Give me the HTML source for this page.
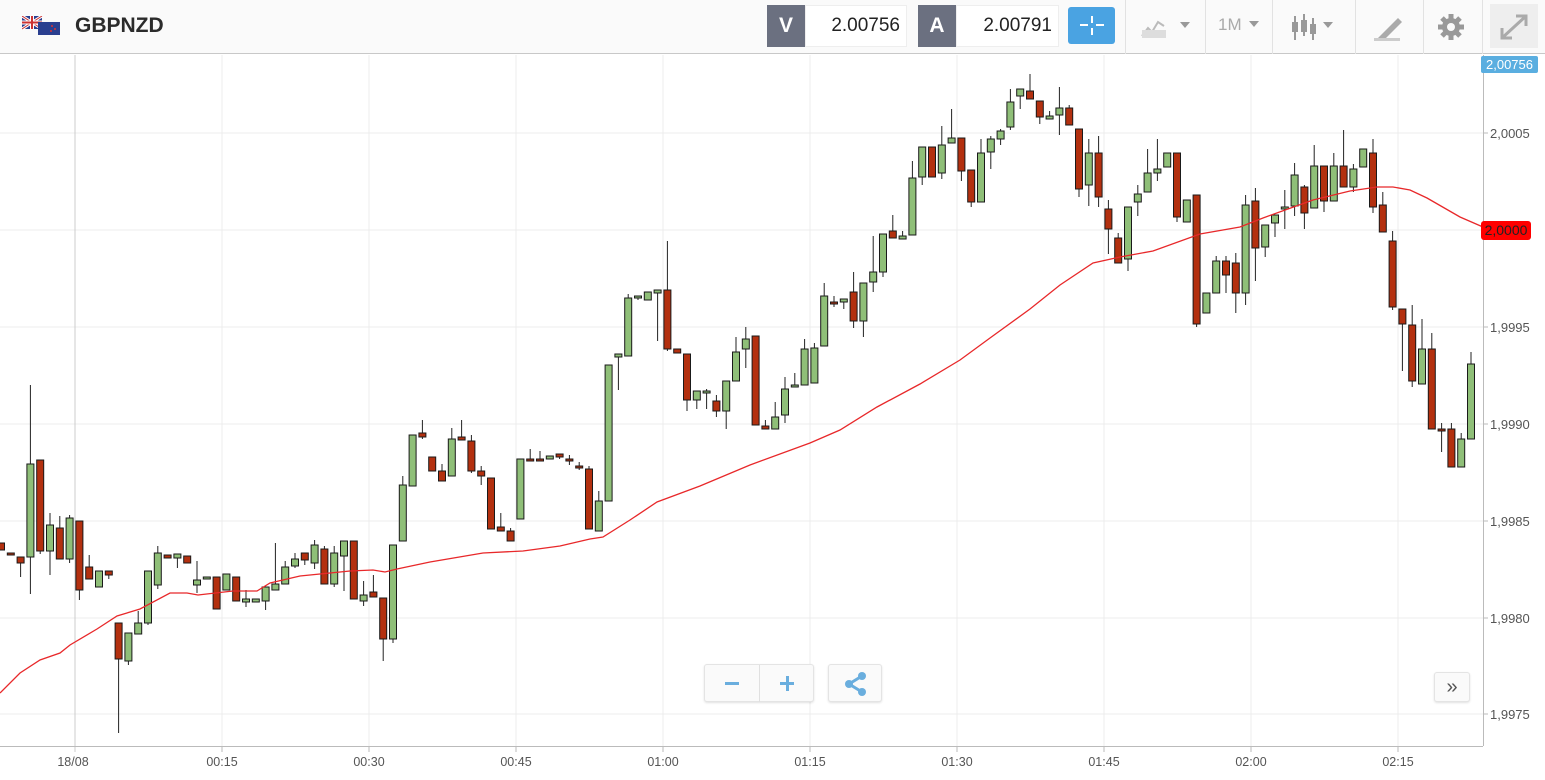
<!DOCTYPE html>
<html><head><meta charset="utf-8">
<style>
*{margin:0;padding:0;box-sizing:border-box}
body{width:1545px;height:780px;overflow:hidden;background:#fff;font-family:"Liberation Sans",sans-serif;position:relative}
.hdr{position:absolute;left:0;top:0;width:1545px;height:54px;background:#fafafa;border-bottom:1px solid #c8c8c8}
.title{position:absolute;left:75px;top:14px;font-size:21px;font-weight:bold;color:#2b2b2b}
.lbl{position:absolute;top:5px;height:42px;width:38px;background:#6b7080;color:#fff;font-weight:bold;font-size:21px;text-align:center;line-height:42px}
.val{position:absolute;top:5px;height:42px;background:#fff;border:1px solid #eee;font-size:19px;color:#222;line-height:40px;text-align:right;padding-right:6px}
.sep{position:absolute;top:0;width:1px;height:54px;background:#e2e2e2}
.ic{position:absolute;top:15px;color:#aab;font-size:17px}
.btn{position:absolute;background:#fafafa;border:1px solid #e4e4e4;border-radius:3px;box-shadow:0 1px 2px rgba(0,0,0,.12)}
</style></head><body>
<div class="hdr">
 <svg style="position:absolute;left:22px;top:16px" width="38" height="20">
  <rect x="0" y="0" width="20" height="13" fill="#2a3f8f"/><path d="M0 0L20 13M20 0L0 13" stroke="#fff" stroke-width="3"/><path d="M0 0L20 13M20 0L0 13" stroke="#c33" stroke-width="1"/><rect x="8" y="0" width="4" height="13" fill="#fff"/><rect x="0" y="4.5" width="20" height="4" fill="#fff"/><rect x="9" y="0" width="2" height="13" fill="#c33"/><rect x="0" y="5.5" width="20" height="2" fill="#c33"/>
  <rect x="16" y="6" width="22" height="13" fill="#2a3f8f"/><circle cx="30" cy="10" r="1" fill="#d33"/><circle cx="33" cy="13" r="1" fill="#d33"/><circle cx="29" cy="15" r="1" fill="#d33"/>
 </svg>
 <div class="title">GBPNZD</div>
 <div class="lbl" style="left:767px">V</div><div class="val" style="left:805px;width:102px">2.00756</div>
 <div class="lbl" style="left:918px">A</div><div class="val" style="left:956px;width:103px">2.00791</div>
 <div style="position:absolute;left:1068px;top:7px;width:47px;height:37px;background:#4aa3e2;border-radius:3px">
  <div style="position:absolute;left:23px;top:9px;width:2px;height:7px;background:#fff"></div><div style="position:absolute;left:23px;top:21px;width:2px;height:7px;background:#fff"></div>
  <div style="position:absolute;left:12px;top:17px;width:8px;height:2px;background:#fff"></div><div style="position:absolute;left:28px;top:17px;width:8px;height:2px;background:#fff"></div>
 </div>
 <div class="sep" style="left:1125px"></div><div class="sep" style="left:1205px"></div><div class="sep" style="left:1272px"></div><div class="sep" style="left:1355px"></div><div class="sep" style="left:1423px"></div><div class="sep" style="left:1482px"></div>
 <svg style="position:absolute;left:1140px;top:16px" width="55" height="24"><path d="M2 20L8 12L12 16L18 6L24 10" stroke="#bbb" stroke-width="2" fill="none"/><rect x="2" y="14" width="24" height="8" fill="#ddd"/><path d="M40 6L50 6L45 12Z" fill="#999"/></svg>
 <div class="ic" style="left:1218px;font-size:17px;color:#aaa">1M</div><svg style="position:absolute;left:1249px;top:21px" width="12" height="8"><path d="M0 0L10 0L5 6Z" fill="#999"/></svg>
 <svg style="position:absolute;left:1290px;top:12px" width="55" height="32"><g stroke="#999" stroke-width="2"><path d="M5 4V28M14 2V24M23 6V28"/></g><rect x="2" y="10" width="6" height="10" fill="#999"/><rect x="11" y="8" width="6" height="12" fill="#999"/><rect x="20" y="12" width="6" height="10" fill="#999"/><path d="M33 10L43 10L38 16Z" fill="#999"/></svg>
 <svg style="position:absolute;left:1372px;top:14px" width="32" height="28"><path d="M4 26L26 4L30 8L12 26Z" fill="#aaa"/><rect x="2" y="24" width="26" height="3" fill="#ccc"/></svg>
 <svg style="position:absolute;left:1436px;top:12px" width="30" height="30"><circle cx="15" cy="15" r="9" fill="#999"/><circle cx="15" cy="15" r="4" fill="#fafafa"/><g stroke="#999" stroke-width="5"><path d="M15 2V28M2 15H28M6 6L24 24M24 6L6 24"/></g><circle cx="15" cy="15" r="4" fill="#fafafa"/></svg>
 <div style="position:absolute;left:1490px;top:4px;width:48px;height:44px;background:#eee"></div>
 <svg style="position:absolute;left:1498px;top:12px" width="32" height="30"><path d="M18 4H28V14M28 4L4 26M4 16V26H14" stroke="#aaa" stroke-width="3" fill="none"/></svg>
</div>
<svg id="ch" style="position:absolute;left:0;top:0" width="1545" height="780"></svg>
<div style="position:absolute;left:1481px;top:56px;width:57px;height:17px;background:#5aaee0;color:#fff;font-size:13px;line-height:17px;text-align:center;border-radius:2px">2,00756</div>
<div style="position:absolute;left:1481px;top:221px;width:50px;height:19px;background:#f00;color:#222;font-size:14px;line-height:19px;text-align:center;border-radius:3px">2,0000</div>
<div class="btn" style="left:704px;top:664px;width:110px;height:38px"><div style="position:absolute;left:54px;top:0;width:1px;height:37px;background:#e0e0e0"></div>
 <div style="position:absolute;left:20px;top:17px;width:14px;height:3px;background:#6aaede"></div>
 <div style="position:absolute;left:75px;top:17px;width:14px;height:3px;background:#6aaede"></div><div style="position:absolute;left:80.5px;top:11px;width:3px;height:15px;background:#6aaede"></div></div>
<div class="btn" style="left:828px;top:664px;width:54px;height:38px"><svg width="54" height="38"><g fill="#6aaede"><circle cx="20" cy="19" r="4"/><circle cx="33" cy="11" r="4"/><circle cx="33" cy="27" r="4"/></g><path d="M20 19L33 11M20 19L33 27" stroke="#6aaede" stroke-width="3"/></svg></div>
<div class="btn" style="left:1434px;top:672px;width:36px;height:30px;text-align:center;font-size:20px;color:#555;line-height:28px">»</div>
<script>
var s='';
var ys=[133,230,327,424,521,618,714];
ys.forEach(function(y){s+='<line x1="0" y1="'+y+'" x2="1483" y2="'+y+'" stroke="#ececec"/>';});
var xs=[222,369,516,663,810,957,1104,1251,1398];
xs.forEach(function(x){s+='<line x1="'+x+'" y1="55" x2="'+x+'" y2="746" stroke="#ececec"/><line x1="'+x+'" y1="746" x2="'+x+'" y2="752" stroke="#bbb"/>';});
s+='<line x1="75" y1="55" x2="75" y2="752" stroke="#ccc"/>';
s+='<line x1="0" y1="746.5" x2="1483" y2="746.5" stroke="#bbb"/><line x1="1483.5" y1="55" x2="1483.5" y2="746" stroke="#bbb"/>';
ys.forEach(function(y){s+='<line x1="1483" y1="'+y+'" x2="1488" y2="'+y+'" stroke="#bbb"/>';});
var D=[
['r',543,550],['r',553,554],['r',557,563,557,577],['g',464,557,385,594],['r',460,551,460,554],['g',525,551,513,575],['r',528,559,516,559],['g',518,559,515,563],['r',521,590,521,600],['r',567,579,555,579],
['g',571,587],['r',571,575,571,579],['r',623,659,623,733],['g',633,661,633,665],['g',623,634,611,634],['g',571,623,571,625],['g',553,585,546,589],['r',555,558],['g',554,558,554,568],['r',556,563],
['g',580,585,561,593],['g',577,579],['r',577,609],['g',574,590],['r',577,601],['g',599,602,590,607],['g',599,602],['g',587,601,587,610],['g',584,590,543,590],['g',567,584,561,584],
['g',559,566,553,568],['r',553,560,553,565],['g',545,563,540,569],['r',549,584,546,584],['g',553,584,546,587],['g',541,556,541,591],['r',541,599],['g',595,601,581,606],['r',592,597,575,597],['r',598,639,598,661],
['g',545,639,545,643],['g',485,541,476,541],['g',435,486],['r',433,437,420,439],['r',457,471],['r',471,481,464,481],['g',439,476,428,476],['r',437,440,420,440],['r',441,471,435,473],['r',471,476,466,485],
['r',478,529],['r',527,531,513,531],['r',531,541,528,541],['g',459,519],['r',459,460,449,461],['r',459,460,451,460],['g',456,459],['r',454,457,454,459],['r',459,461,455,465],['r',466,467,462,470],
['r',469,529,466,529],['g',501,531,491,531],['g',365,501],['g',354,357,354,390],['g',298,356,294,356],['g',296,297,296,300],['g',292,300],['g',290,293,290,341],['r',290,349,241,351],['r',349,353],
['r',354,400,354,411],['g',391,400,391,409],['g',391,393,389,409],['r',401,411,395,417],['g',381,411,381,429],['g',352,381,337,381],['g',339,349,327,368],['r',336,425],['r',426,429,420,429],['g',417,429,402,429],
['g',389,415,377,423],['g',385,387,373,387],['g',349,385,339,385],['g',348,383,343,383],['g',296,346,283,346],['r',302,303,296,307],['g',299,302,299,309],['r',292,321,272,328],['g',283,321,283,337],['g',272,282,236,292],
['g',234,272,234,277],['r',231,238,215,238],['g',236,239,231,239],['g',178,235,161,235],['g',147,177,147,185],['r',147,177],['g',145,173,126,179],['g',138,143,109,143],['r',138,171,138,181],['r',170,202,170,207],
['g',153,202,139,202],['g',139,152,136,169],['g',131,139,129,145],['g',102,127,89,130],['g',89,96,89,109],['r',91,99,74,99],['r',101,117,101,124],['g',116,119,111,119],['g',108,115,87,135],['r',108,125,105,125],
['r',129,189,129,197],['g',153,185,139,206],['r',153,197,136,207],['r',209,229,200,254],['r',238,263,233,263],['g',207,259,207,271],['g',194,202,185,216],['g',173,192,149,192],['g',169,173,139,181],['g',153,167],
['r',153,217,153,222],['g',200,222],['r',195,324,195,327],['g',293,313],['g',261,293,256,293],['r',261,275,256,293],['r',263,293,253,313],['g',205,293,195,305],['r',201,248,188,281],['g',225,247,225,257],
['g',215,223,215,237],['g',207,209,190,229],['g',175,206,163,216],['r',187,213,185,229],['g',166,208,145,208],['r',166,201,166,212],['g',166,201,153,201],['r',166,187,130,187],['g',169,187,164,192],['g',149,167],
['r',153,207,139,213],['r',205,232,192,232],['r',241,307,231,310],['r',309,324,309,371],['r',325,381,305,387],['g',349,384,319,384],['r',349,429,333,429],['r',429,430,423,452],['r',429,467,423,467],['g',439,467,433,467],
['g',364,439,352,439]];
D.forEach(function(d,k){var x=1+9.8*k;var bt=d[1],bb=d[2];var wt=d.length>3?d[3]:bt,wb=d.length>3?d[4]:bb;
 s+='<line x1="'+x+'" y1="'+wt+'" x2="'+x+'" y2="'+wb+'" stroke="#222" stroke-width="1"/>';
 var h=Math.max(bb-bt,2);
 s+='<rect x="'+(x-3.5)+'" y="'+bt+'" width="7" height="'+h+'" fill="'+(d[0]=='g'?'#8fbf78':'#b3300f')+'" stroke="#1a1a1a" stroke-width="1"/>';});
var M=[[0,693],[20,673],[40,660],[60,653],[70,645],[97,629],[117,616],[140,609],[170,593],[187,593],[198,595],[233,591],[257,591],[270,583],[300,576],[350,571],[373,570],[385,572],[397,569],[430,562],[483,553],[523,551],[560,546],[590,539],[603,537],[630,520],[657,502],[700,486],[750,465],[810,443],[840,430],[877,407],[920,384],[960,360],[990,338],[1030,309],[1060,285],[1093,263],[1120,257],[1153,251],[1200,234],[1240,227],[1263,218],[1313,200],[1350,191],[1377,187],[1393,187],[1410,190],[1427,198],[1460,217],[1483,227]];
s+='<polyline fill="none" stroke="#e8282a" stroke-width="1.3" points="'+M.map(function(p){return p.join(',')}).join(' ')+'"/>';
document.getElementById('ch').innerHTML=s;
</script>
<svg style="position:absolute;left:0;top:0" width="1545" height="780" font-family="Liberation Sans, sans-serif" font-size="13" fill="#555">
<text x="1490" y="138">2,0005</text><text x="1490" y="332">1,9995</text><text x="1490" y="429">1,9990</text><text x="1490" y="526">1,9985</text><text x="1490" y="623">1,9980</text><text x="1490" y="719">1,9975</text>
<g text-anchor="middle" font-size="12.5"><text x="73" y="766">18/08</text><text x="222" y="766">00:15</text><text x="369" y="766">00:30</text><text x="516" y="766">00:45</text><text x="663" y="766">01:00</text><text x="810" y="766">01:15</text><text x="957" y="766">01:30</text><text x="1104" y="766">01:45</text><text x="1251" y="766">02:00</text><text x="1398" y="766">02:15</text></g>
</svg>
</body></html>
